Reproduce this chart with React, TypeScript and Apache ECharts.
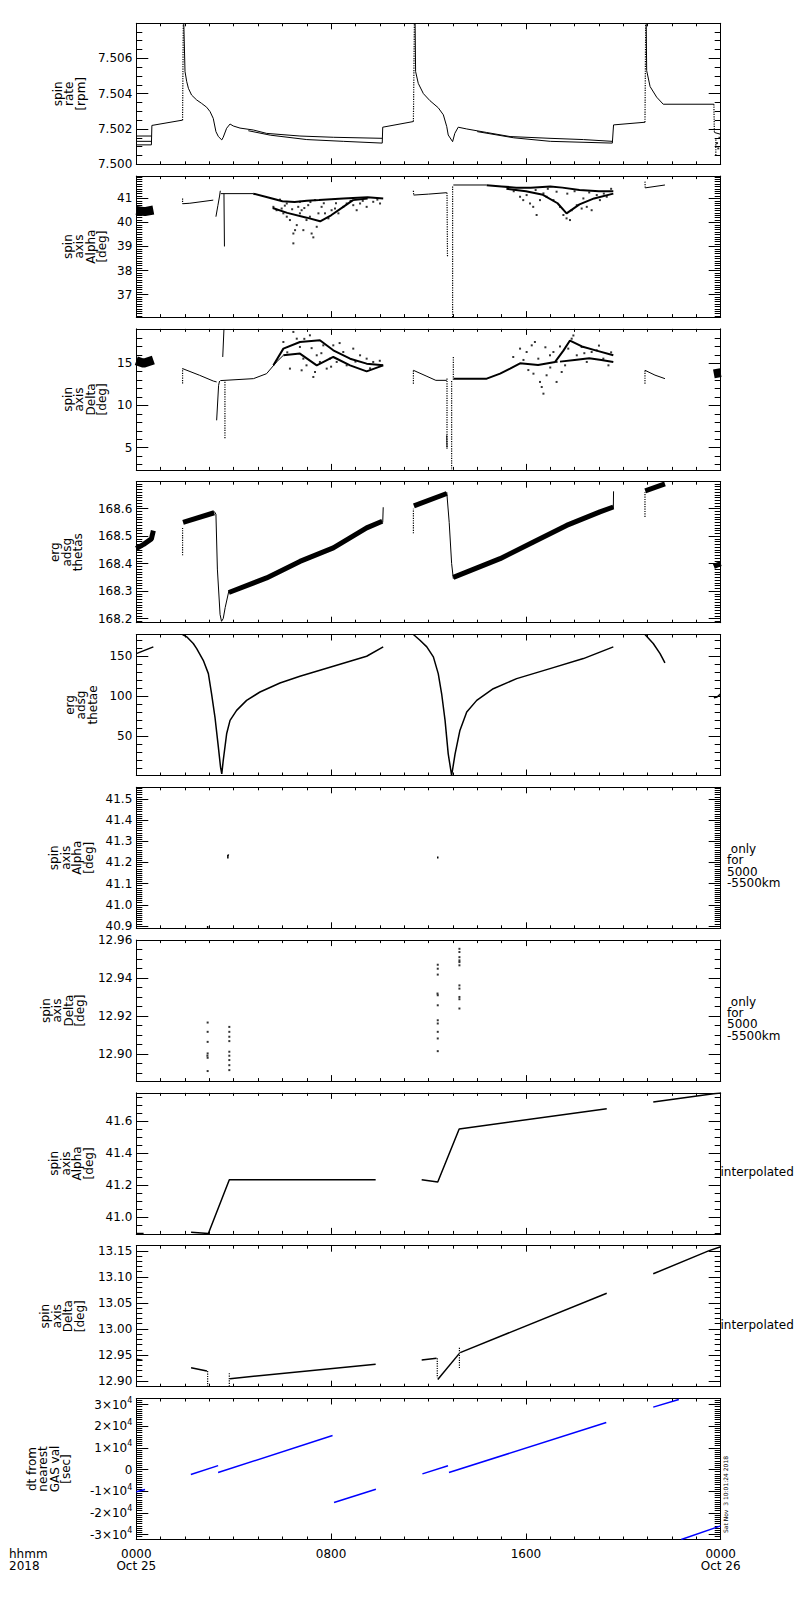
import React, { useEffect, useRef } from "react";
import * as echarts from "echarts";

type Pt = [number, number];
type Seg = Pt[];

// ---------- shared time axis (hours since 0000 Oct 25) ----------
const HOUR_TICKS = [0, 8, 16, 24];
const HOUR_TICK_LABELS = ["0000\nOct 25", "0800", "1600", "0000\nOct 26"];

// ---------- panel 1: spin rate [rpm] ----------
const P1_TICKS = [7.5, 7.502, 7.504, 7.506];
const P1_TICK_LABELS = ["7.500", "7.502", "7.504", "7.506"];
const P1_LINES: Seg[] = [
  [[0, 7.5016], [0.62, 7.5016]],
  [[0, 7.5013], [0.62, 7.5013]],
  [[0, 7.5011], [0.62, 7.5011], [0.64, 7.5022], [1.9, 7.5025]],
  [[1.95, 7.50798], [2.0, 7.50525], [2.07, 7.50468], [2.14, 7.5043], [2.27, 7.50392], [2.48, 7.50364], [2.68, 7.50345], [2.89, 7.50323], [3.03, 7.50298], [3.16, 7.5026], [3.27, 7.50185], [3.37, 7.50157], [3.51, 7.50138], [3.57, 7.50153], [3.71, 7.50204], [3.85, 7.50228], [3.98, 7.50217], [4.26, 7.50205], [4.81, 7.50194], [5.35, 7.50175], [6.72, 7.5016], [8.09, 7.50153], [10.1, 7.50147]],
  [[4.6, 7.5019], [5.5, 7.50165], [7.0, 7.5014], [8.5, 7.5013], [10.1, 7.5012]],
  [[10.1, 7.5012], [10.12, 7.5021], [10.83, 7.50228], [11.38, 7.50242]],
  [[11.45, 7.50798], [11.47, 7.50525], [11.58, 7.50458], [11.79, 7.504], [12.06, 7.5036], [12.4, 7.5032], [12.61, 7.5028], [12.75, 7.50213], [12.81, 7.50166], [12.99, 7.50128], [13.08, 7.50175], [13.22, 7.5021], [13.57, 7.502], [14.39, 7.5018], [15.35, 7.50157], [16.99, 7.50147], [18.36, 7.5014], [19.55, 7.5013]],
  [[14.0, 7.50185], [15.5, 7.5015], [17.0, 7.5013], [19.55, 7.5012]],
  [[19.55, 7.5012], [19.6, 7.50223], [20.89, 7.50238]],
  [[20.94, 7.50798], [20.96, 7.5053], [21.1, 7.5044], [21.37, 7.5038], [21.64, 7.5034], [23.72, 7.5034]],
  [[23.74, 7.5018], [24, 7.5017]],
];
const P1_DOTTED: Seg[] = [
  [[1.9, 7.5025], [1.93, 7.50798]],
  [[11.38, 7.50242], [11.42, 7.50798]],
  [[20.89, 7.50238], [20.92, 7.50798]],
  [[23.72, 7.5034], [23.74, 7.5018]],
  [[23.8, 7.5014], [23.8, 7.5005]],
];
const P1_POINTS: Pt[] = [[23.85, 7.5012], [23.9, 7.5009], [23.95, 7.5015]];

// ---------- panel 2: spin axis Alpha [deg] ----------
const P2_TICKS = [37, 38, 39, 40, 41];
const P2_TICK_LABELS = ["37", "38", "39", "40", "41"];
const P2_BANDS: Seg[] = [[[0, 40.5], [0.35, 40.45], [0.7, 40.52]]];
const P2_THICK: Seg[] = [
  [[4.8, 41.2], [5.5, 41.02], [6.0, 40.88], [6.5, 40.85], [7.0, 40.9], [7.5, 40.93], [8.5, 41.0], [9.5, 41.05], [10.14, 41.0]],
  [[5.6, 40.6], [6.2, 40.4], [7.0, 40.2], [7.55, 40.05], [8.0, 40.3], [8.5, 40.65], [8.9, 40.93], [9.5, 41.0]],
  [[14.39, 41.55], [15.0, 41.5], [15.6, 41.45], [16.2, 41.45], [17.0, 41.5], [17.5, 41.45], [18.2, 41.35], [19.0, 41.3], [19.59, 41.3]],
  [[15.2, 41.4], [16.0, 41.3], [16.7, 41.15], [17.3, 40.8], [17.67, 40.38], [18.2, 40.75], [18.8, 41.0], [19.59, 41.2]],
];
const P2_LINES: Seg[] = [
  [[1.9, 40.78], [2.2, 40.8], [3.16, 40.93]],
  [[3.27, 40.24], [3.35, 40.7], [3.42, 41.1], [3.45, 41.32]],
  [[3.6, 41.2], [3.62, 39.0]],
  [[3.47, 41.2], [4.8, 41.2]],
  [[11.39, 41.14], [12.0, 41.18], [12.75, 41.24]],
  [[13.02, 41.56], [14.39, 41.56]],
  [[20.9, 41.44], [21.71, 41.56]],
];
const P2_DOTTED: Seg[] = [
  [[1.9, 41.0], [1.9, 40.78]],
  [[11.38, 41.32], [11.39, 41.14]],
  [[12.76, 41.24], [12.78, 38.57]],
  [[12.99, 41.5], [12.99, 36.06]],
  [[20.89, 41.7], [20.9, 41.44]],
];
const P2_POINTS: Pt[] = [
  [5.63, 40.65], [5.76, 40.51], [5.97, 40.58], [6.04, 40.38], [6.18, 40.24], [6.18, 40.79], [6.31, 40.1], [6.45, 39.54], [6.45, 39.13], [6.52, 39.68], [6.59, 39.89], [6.65, 40.65], [6.72, 40.38], [6.72, 40.86], [6.79, 40.51], [6.86, 39.68], [6.99, 40.1], [7.06, 40.72], [7.13, 40.24], [7.2, 39.54], [7.27, 39.38], [7.34, 40.93], [7.41, 39.82], [7.48, 40.38], [7.61, 40.65], [7.75, 40.38], [7.89, 40.17], [8.02, 40.51], [8.16, 40.58], [8.3, 40.38], [8.5, 40.65], [8.64, 40.79], [8.91, 40.72], [9.05, 40.51], [9.19, 40.79], [9.46, 40.65], [9.73, 40.86], [10.01, 40.79],
  [5.9, 40.95], [6.1, 40.7], [6.4, 40.55], [6.9, 40.6], [7.15, 40.85], [7.7, 40.8], [8.2, 40.8], [8.8, 40.9], [9.3, 40.9], [9.9, 40.95],
  [15.89, 40.93], [16.17, 40.79], [16.3, 40.65], [16.44, 40.31], [16.58, 40.93], [16.85, 41.07], [17.13, 40.93], [17.4, 40.65], [17.54, 40.31], [17.67, 40.17], [17.81, 40.1], [17.88, 40.51], [18.09, 40.72], [18.29, 40.58], [18.5, 40.65], [18.7, 40.51], [19.04, 40.93], [15.76, 41.07], [16.03, 41.14], [16.72, 41.21], [17.26, 41.28], [18.36, 41.0], [18.91, 41.14], [19.32, 41.07],
  [15.5, 41.3], [16.4, 41.35], [16.9, 41.4], [17.7, 41.2], [18.0, 41.3], [18.6, 41.25], [19.2, 41.2], [19.5, 41.4],
];

// ---------- panel 3: spin axis Delta [deg] ----------
const P3_TICKS = [5, 10, 15];
const P3_TICK_LABELS = ["5", "10", "15"];
const P3_BANDS: Seg[] = [
  [[0, 15.3], [0.3, 15.0], [0.7, 15.4]],
  [[23.72, 13.75], [24, 13.9]],
];
const P3_THICK: Seg[] = [
  [[5.63, 14.76], [6.04, 16.74], [6.72, 17.53], [7.54, 17.73], [8.09, 16.54], [8.78, 15.55], [9.46, 14.96], [10.14, 14.76]],
  [[6.04, 15.95], [6.72, 16.15], [7.41, 14.76], [8.09, 15.75], [8.78, 14.76], [9.46, 14.05], [10.14, 14.76]],
  [[13.04, 13.18], [14.39, 13.18], [14.94, 13.77], [15.35, 14.37], [15.76, 15.0], [16.5, 14.8], [17.2, 15.16], [17.54, 16.5], [17.81, 17.7], [18.3, 17.0], [18.9, 16.5], [19.59, 15.95]],
  [[17.4, 15.2], [18.0, 15.4], [18.6, 15.6], [19.1, 15.4], [19.59, 15.16]],
];
const P3_LINES: Seg[] = [
  [[1.9, 14.37], [2.6, 13.58], [3.16, 12.9], [3.3, 12.79]],
  [[3.3, 8.24], [3.38, 12.39], [3.42, 12.9]],
  [[3.55, 15.75], [3.6, 19.08]],
  [[3.45, 12.95], [4.81, 13.18], [5.35, 13.77], [5.76, 15.16], [6.04, 15.95]],
  [[11.38, 14.17], [11.9, 13.5], [12.3, 12.98], [12.75, 12.98]],
  [[12.75, 6.46], [12.76, 5.0]],
  [[20.89, 14.17], [21.3, 13.6], [21.71, 13.18]],
];
const P3_DOTTED: Seg[] = [
  [[1.9, 12.6], [1.9, 14.37]],
  [[3.64, 12.8], [3.64, 6.07]],
  [[11.38, 12.59], [11.38, 14.17]],
  [[12.76, 13.2], [12.76, 4.88]],
  [[12.95, 12.9], [12.95, 2.36]],
  [[13.02, 15.75], [13.02, 12.9]],
  [[20.89, 12.59], [20.89, 14.17]],
];
const P3_POINTS: Pt[] = [
  [6.04, 17.53], [6.45, 18.72], [6.59, 17.92], [6.72, 16.94], [6.86, 15.55], [6.99, 14.76], [7.13, 18.32], [7.27, 13.38], [7.41, 15.95], [7.54, 15.16], [7.68, 17.13], [7.82, 14.37], [7.95, 15.55], [8.23, 15.16], [8.5, 16.34], [8.91, 16.74], [9.19, 15.95], [9.46, 15.55], [9.73, 15.16], [6.31, 14.37], [6.79, 14.17], [7.34, 13.97], [8.09, 17.13], [8.64, 14.76],
  [6.2, 16.3], [6.9, 17.9], [7.2, 16.8], [7.6, 16.2], [8.0, 14.6], [8.35, 17.4], [9.0, 15.2], [9.6, 14.4], [10.0, 15.3],
  [15.48, 15.75], [15.76, 16.74], [16.03, 16.34], [16.24, 17.13], [16.37, 17.53], [16.51, 15.55], [16.58, 12.79], [16.65, 12.19], [16.72, 11.4], [16.85, 13.58], [16.99, 15.95], [17.13, 16.34], [17.26, 12.79], [17.47, 13.97], [17.61, 14.76], [17.74, 16.74], [17.88, 17.92], [18.09, 15.95], [18.29, 16.94], [18.5, 15.16], [18.7, 16.34], [18.91, 16.54], [19.18, 15.55], [19.39, 14.76], [16.31, 13.77], [17.26, 15.16],
  [15.9, 15.4], [16.1, 14.2], [16.8, 16.9], [17.0, 14.5], [17.4, 17.0], [17.95, 18.3], [18.4, 16.2], [19.0, 17.1], [19.5, 16.3],
];

// ---------- panel 4: erg adsg thetas ----------
const P4_TICKS = [168.2, 168.3, 168.4, 168.5, 168.6];
const P4_TICK_LABELS = ["168.2", "168.3", "168.4", "168.5", "168.6"];
const P4_BANDS: Seg[] = [
  [[0, 168.455], [0.3, 168.47], [0.62, 168.49], [0.7, 168.52]],
  [[1.92, 168.55], [3.2, 168.585]],
  [[3.8, 168.295], [5.35, 168.348], [6.72, 168.408], [8.09, 168.457], [9.46, 168.53], [10.1, 168.554]],
  [[11.4, 168.61], [12.75, 168.655]],
  [[13.02, 168.35], [14.94, 168.418], [16.31, 168.479], [17.67, 168.539], [19.04, 168.588], [19.59, 168.606]],
  [[20.9, 168.665], [21.71, 168.69]],
  [[23.72, 168.39], [24, 168.4]],
];
const P4_LINES: Seg[] = [
  [[3.2, 168.59], [3.27, 168.58], [3.33, 168.38], [3.44, 168.215], [3.5, 168.19], [3.57, 168.2], [3.65, 168.24], [3.8, 168.3]],
  [[12.75, 168.66], [12.85, 168.55], [12.95, 168.4], [13.02, 168.345]],
  [[10.12, 168.55], [10.14, 168.605]],
  [[19.59, 168.6], [19.6, 168.663]],
];
const P4_DOTTED: Seg[] = [
  [[1.9, 168.43], [1.9, 168.53]],
  [[11.38, 168.51], [11.38, 168.6]],
  [[20.89, 168.57], [20.89, 168.66]],
];

// ---------- panel 5: erg adsg thetae ----------
const P5_TICKS = [50, 100, 150];
const P5_TICK_LABELS = ["50", "100", "150"];
const P5_LINES: Seg[] = [
  [[0, 152.9], [0.7, 161.2]],
  [[1.9, 176.6], [2.07, 173.7], [2.34, 165.4], [2.48, 159.1], [2.75, 144.6], [2.96, 128.0], [3.09, 103.1], [3.23, 74.1], [3.37, 36.7], [3.46, 11.8], [3.51, 3.5], [3.57, 20.1], [3.71, 53.3], [3.85, 70], [4.12, 82.4], [4.53, 94.8], [5.08, 105.2], [5.9, 116.4], [6.72, 124.7], [8.09, 137.1], [9.46, 149.6], [10.14, 161.2]],
  [[11.38, 176.6], [11.65, 169.5], [11.93, 161.2], [12.2, 148.8], [12.4, 128], [12.54, 103], [12.68, 70], [12.81, 28.4], [12.95, 1.5], [13.09, 28], [13.29, 57.5], [13.57, 80.3], [13.98, 94.8], [14.66, 109.3], [15.62, 121.8], [16.99, 134.2], [18.36, 146.7], [19.59, 161.2]],
  [[20.89, 176.6], [21.23, 165.4], [21.51, 152.9], [21.71, 141.3]],
  [[23.72, 98], [23.85, 99], [24, 103]],
];

// ---------- panel 6: spin axis Alpha, 5000-5500 km ----------
const P6_TICKS = [40.9, 41.0, 41.1, 41.2, 41.3, 41.4, 41.5];
const P6_TICK_LABELS = ["40.9", "41.0", "41.1", "41.2", "41.3", "41.4", "41.5"];
const P6_LINES: Seg[] = [
  [[3.76, 41.236], [3.76, 41.219]],
  [[3.76, 41.236], [3.8, 41.233]],
  [[12.38, 41.228], [12.38, 41.219]],
  [[2.93, 40.889], [2.93, 40.9]],
];

// ---------- panel 7: spin axis Delta, 5000-5500 km ----------
const P7_TICKS = [12.9, 12.92, 12.94, 12.96];
const P7_TICK_LABELS = ["12.90", "12.92", "12.94", "12.96"];
const P7_POINTS: Pt[] = [
  [2.93, 12.9165], [2.93, 12.9116], [2.93, 12.9063], [2.93, 12.9002], [2.92, 12.899], [2.93, 12.8979], [2.93, 12.8909],
  [3.82, 12.9142], [3.82, 12.9116], [3.82, 12.909], [3.82, 12.9067], [3.82, 12.9011], [3.82, 12.899], [3.82, 12.8967], [3.82, 12.894], [3.82, 12.8914],
  [12.38, 12.947], [12.38, 12.9449], [12.38, 12.9418], [12.37, 12.9318], [12.38, 12.9309], [12.38, 12.9256], [12.38, 12.9177], [12.38, 12.916], [12.38, 12.9116], [12.38, 12.9081], [12.38, 12.9014],
  [13.27, 12.9554], [13.27, 12.9537], [13.27, 12.951], [13.27, 12.9493], [13.27, 12.9484], [13.27, 12.9467], [13.27, 12.9361], [13.27, 12.9344], [13.27, 12.93], [13.27, 12.9288], [13.27, 12.9239],
];

// ---------- panel 8: spin axis Alpha, interpolated ----------
const P8_TICKS = [41.0, 41.2, 41.4, 41.6];
const P8_TICK_LABELS = ["41.0", "41.2", "41.4", "41.6"];
const P8_LINES: Seg[] = [
  [[0, 40.9], [0.3, 40.9]],
  [[2.25, 40.907], [2.96, 40.9], [3.82, 41.234], [9.83, 41.234]],
  [[11.72, 41.234], [12.38, 41.22], [13.26, 41.55], [19.32, 41.676]],
  [[21.23, 41.718], [23.7, 41.769], [24, 41.775]],
];

// ---------- panel 9: spin axis Delta, interpolated ----------
const P9_TICKS = [12.9, 12.95, 13.0, 13.05, 13.1, 13.15];
const P9_TICK_LABELS = ["12.90", "12.95", "13.00", "13.05", "13.10", "13.15"];
const P9_LINES: Seg[] = [
  [[0, 12.942], [0.25, 12.94]],
  [[2.25, 12.9256], [2.9, 12.919]],
  [[3.85, 12.9045], [9.83, 12.932]],
  [[11.72, 12.9404], [12.33, 12.9436]],
  [[12.38, 12.903], [13.26, 12.9526]],
  [[13.3, 12.9545], [19.32, 13.0686]],
  [[21.23, 13.106], [23.5, 13.15], [24, 13.158]],
];
const P9_DOTTED: Seg[] = [
  [[2.93, 12.919], [2.93, 12.889]],
  [[3.82, 12.915], [3.82, 12.889]],
  [[12.36, 12.9436], [12.36, 12.906]],
  [[13.27, 12.964], [13.27, 12.925]],
];

// ---------- panel 10: dt from nearest GAS val [sec] ----------
const P10_TICKS = [-30000, -20000, -10000, 0, 10000, 20000, 30000];
const P10_TICK_LABELS = ["{b|-3×10}{s|4}", "{b|-2×10}{s|4}", "{b|-1×10}{s|4}", "{b|0}", "{b|1×10}{s|4}", "{b|2×10}{s|4}", "{b|3×10}{s|4}"];
const P10_LINES: Seg[] = [
  [[0, -10300], [0.36, -9200]],
  [[2.24, -2300], [3.36, 1800]],
  [[3.36, -1400], [8.06, 15700]],
  [[8.12, -15200], [9.84, -9100]],
  [[11.75, -2000], [12.8, 1700]],
  [[12.84, -1400], [19.3, 21700]],
  [[21.23, 28800], [22.28, 32300]],
  [[22.38, -32300], [24.0, -26000]],
];

const FONT = '"DejaVu Sans", sans-serif';
const BLACK = "#000000";

const PANELS = [
  { name: "spin\nrate\n[rpm]", nameX: 69, min: 7.5, max: 7.50798, ticks: P1_TICKS, labels: P1_TICK_LABELS, minor: 0.0005, lines: P1_LINES, thick: [], bands: [], bandW: 0, dotted: P1_DOTTED, points: P1_POINTS, color: BLACK, lineW: 1 },
  { name: "spin\naxis\nAlpha\n[deg]", nameX: 85, min: 36.06, max: 41.93, ticks: P2_TICKS, labels: P2_TICK_LABELS, minor: 0.1, lines: P2_LINES, thick: P2_THICK, bands: P2_BANDS, bandW: 9, dotted: P2_DOTTED, points: P2_POINTS, color: BLACK, lineW: 1 },
  { name: "spin\naxis\nDelta\n[deg]", nameX: 85, min: 2.36, max: 19.08, ticks: P3_TICKS, labels: P3_TICK_LABELS, minor: 1, lines: P3_LINES, thick: P3_THICK, bands: P3_BANDS, bandW: 9, dotted: P3_DOTTED, points: P3_POINTS, color: BLACK, lineW: 1 },
  { name: "erg\nadsg\nthetas", nameX: 66.5, min: 168.185, max: 168.698, ticks: P4_TICKS, labels: P4_TICK_LABELS, minor: 0.01, lines: P4_LINES, thick: [], bands: P4_BANDS, bandW: 5, dotted: P4_DOTTED, points: [], color: BLACK, lineW: 1 },
  { name: "erg\nadsg\nthetae", nameX: 81, min: 1.5, max: 176.6, ticks: P5_TICKS, labels: P5_TICK_LABELS, minor: 10, lines: P5_LINES, thick: [], bands: [], bandW: 0, dotted: [], points: [], color: BLACK, lineW: 1.5 },
  { name: "spin\naxis\nAlpha\n[deg]", nameX: 71.5, min: 40.889, max: 41.555, ticks: P6_TICKS, labels: P6_TICK_LABELS, minor: 0.01, lines: P6_LINES, thick: [], bands: [], bandW: 0, dotted: [], points: [], color: BLACK, lineW: 1.5 },
  { name: "spin\naxis\nDelta\n[deg]", nameX: 63, min: 12.8856, max: 12.96, ticks: P7_TICKS, labels: P7_TICK_LABELS, minor: 0.005, lines: [], thick: [], bands: [], bandW: 0, dotted: [], points: P7_POINTS, color: BLACK, lineW: 1 },
  { name: "spin\naxis\nAlpha\n[deg]", nameX: 71.5, min: 40.897, max: 41.775, ticks: P8_TICKS, labels: P8_TICK_LABELS, minor: 0.05, lines: P8_LINES, thick: [], bands: [], bandW: 0, dotted: [], points: [], color: BLACK, lineW: 1.5 },
  { name: "spin\naxis\nDelta\n[deg]", nameX: 62.5, min: 12.889, max: 13.16, ticks: P9_TICKS, labels: P9_TICK_LABELS, minor: 0.01, lines: P9_LINES, thick: [], bands: [], bandW: 0, dotted: P9_DOTTED, points: [], color: BLACK, lineW: 1.5 },
  { name: "dt from\nnearest\nGAS val\n[sec]", nameX: 49, min: -32300, max: 32770, ticks: P10_TICKS, labels: P10_TICK_LABELS, minor: 1000, lines: P10_LINES, thick: [], bands: [], bandW: 0, dotted: [], points: [], color: "#0000ff", lineW: 1.5 },
];

const GRID_LEFT = 136.3;
const GRID_WIDTH = 584.4;
const GRID_TOP0 = 23.3;
const GRID_STEP = 152.8;
const GRID_H = 141;

function minorValues(min: number, max: number, step: number) {
  const out: number[] = [];
  const k0 = Math.ceil(min / step - 1e-9);
  const k1 = Math.floor(max / step + 1e-9);
  for (let k = k0; k <= k1; k++) out.push(+(k * step).toFixed(10));
  return out.filter((v) => v > min && v < max);
}

function lookupLabel(ticks: number[], labels: string[], v: number) {
  for (let j = 0; j < ticks.length; j++) {
    if (Math.abs(ticks[j] - v) <= 1e-7 * Math.max(1, Math.abs(ticks[j]))) return labels[j];
  }
  return "";
}

function buildOption() {
  const grid: any[] = [];
  const xAxis: any[] = [];
  const yAxis: any[] = [];
  const series: any[] = [];
  const graphic: any[] = [];

  PANELS.forEach((p, i) => {
    const top = GRID_TOP0 + GRID_STEP * i;
    grid.push({ left: GRID_LEFT, width: GRID_WIDTH, top, height: GRID_H, containLabel: false });
    const isLast = i === PANELS.length - 1;
    const xBase = {
      type: "value",
      gridIndex: i,
      min: 0,
      max: 24,
      interval: 8,
      axisLine: { show: true, onZero: false, lineStyle: { color: BLACK, width: 1 } },
      axisTick: { show: true, inside: true, length: 6, lineStyle: { color: BLACK, width: 1 } },
      minorTick: { show: true, splitNumber: 8, length: 3, lineStyle: { color: BLACK, width: 1 } },
      splitLine: { show: false },
      minorSplitLine: { show: false },
    };
    xAxis.push({
      ...xBase,
      position: "bottom",
      axisLabel: {
        show: isLast,
        margin: 8,
        color: BLACK,
        fontFamily: FONT,
        fontSize: 12,
        lineHeight: 12,
        showMinLabel: true,
        showMaxLabel: true,
        formatter: (v: number) => lookupLabel(HOUR_TICKS, HOUR_TICK_LABELS, v),
      },
    });
    xAxis.push({ ...xBase, position: "top", axisLabel: { show: false } });

    const minorVals = minorValues(p.min, p.max, p.minor);
    const yBase = {
      type: "value",
      gridIndex: i,
      min: p.min,
      max: p.max,
      splitLine: { show: false },
      minorTick: { show: false },
    };
    const rich = {
      b: { fontSize: 12, fontFamily: FONT, color: BLACK, lineHeight: 16 },
      s: { fontSize: 8, fontFamily: FONT, color: BLACK, lineHeight: 8, verticalAlign: "top" },
    };
    for (const side of ["left", "right"]) {
      yAxis.push({
        ...yBase,
        position: side,
        axisLine: { show: true, onZero: false, lineStyle: { color: BLACK, width: 1 } },
        axisTick: { show: true, inside: true, length: 12, lineStyle: { color: BLACK, width: 1 }, customValues: p.ticks },
        axisLabel: {
          show: side === "left",
          customValues: p.ticks,
          margin: 4,
          color: BLACK,
          fontFamily: FONT,
          fontSize: 12,
          showMinLabel: true,
          showMaxLabel: true,
          formatter: (v: number) => lookupLabel(p.ticks, p.labels, v),
          rich: isLast ? rich : undefined,
        },
      });
      yAxis.push({
        ...yBase,
        position: side,
        axisLine: { show: false, onZero: false },
        axisTick: { show: true, inside: true, length: 6, lineStyle: { color: BLACK, width: 1 }, customValues: minorVals },
        axisLabel: { show: false },
      });
    }
    const xIdx = 2 * i;
    const yIdx = 4 * i;
    const addLine = (seg: Seg, width: number, type: string) => {
      series.push({
        type: "line",
        xAxisIndex: xIdx,
        yAxisIndex: yIdx,
        data: seg,
        showSymbol: false,
        symbol: "none",
        clip: true,
        silent: true,
        lineStyle: { color: p.color, width, type },
        z: 3,
      });
    };
    p.bands.forEach((s: Seg) => addLine(s, p.bandW, "solid"));
    p.thick.forEach((s: Seg) => addLine(s, 2, "solid"));
    p.lines.forEach((s: Seg) => addLine(s, p.lineW, "solid"));
    p.dotted.forEach((s: Seg) => addLine(s, 1.2, "dotted"));
    if (p.points.length) {
      series.push({
        type: "scatter",
        xAxisIndex: xIdx,
        yAxisIndex: yIdx,
        data: p.points,
        symbol: "rect",
        symbolSize: 2,
        silent: true,
        clip: true,
        itemStyle: { color: p.color },
        z: 3,
      });
    }

    graphic.push({
      type: "text",
      x: p.nameX,
      y: top + GRID_H / 2,
      rotation: Math.PI / 2,
      silent: true,
      style: {
        text: p.name,
        fill: BLACK,
        fontFamily: FONT,
        fontSize: 12,
        lineHeight: 11.5,
        align: "center",
        verticalAlign: "middle",
        textAlign: "center",
        textVerticalAlign: "middle",
      },
    });
  });

  // right-hand annotations
  [5, 6].forEach((i) => {
    graphic.push({
      type: "text",
      x: 727,
      y: GRID_TOP0 + GRID_STEP * i + 56,
      silent: true,
      style: { text: " only\nfor\n5000\n-5500km", fill: BLACK, fontFamily: FONT, fontSize: 12, lineHeight: 11.3, align: "left", verticalAlign: "top", textAlign: "left", textVerticalAlign: "top" },
    });
  });
  [7, 8].forEach((i) => {
    graphic.push({
      type: "text",
      x: 720.5,
      y: GRID_TOP0 + GRID_STEP * i + 79,
      silent: true,
      style: { text: "interpolated", fill: BLACK, fontFamily: FONT, fontSize: 12, align: "left", verticalAlign: "middle", textAlign: "left", textVerticalAlign: "middle" },
    });
  });
  graphic.push({
    type: "text",
    x: 9,
    y: GRID_TOP0 + GRID_STEP * 9 + GRID_H + 8,
    silent: true,
    style: { text: "hhmm\n2018", fill: BLACK, fontFamily: FONT, fontSize: 12, lineHeight: 12, align: "left", verticalAlign: "top", textAlign: "left", textVerticalAlign: "top" },
  });
  graphic.push({
    type: "text",
    x: 725,
    y: GRID_TOP0 + GRID_STEP * 9 + 96,
    rotation: Math.PI / 2,
    silent: true,
    style: { text: "Sat Nov  3 10:01:24 2018", fill: BLACK, fontFamily: FONT, fontSize: 6, align: "center", verticalAlign: "middle", textAlign: "center", textVerticalAlign: "middle" },
  });

  return {
    animation: false,
    backgroundColor: "#ffffff",
    textStyle: { fontFamily: FONT },
    grid,
    xAxis,
    yAxis,
    series,
    graphic,
  };
}

export default function App() {
  const ref = useRef<HTMLDivElement>(null);
  useEffect(() => {
    if (!ref.current) return;
    const chart = echarts.init(ref.current, undefined, { renderer: "svg", width: 800, height: 1600 });
    chart.setOption(buildOption() as any);
    return () => chart.dispose();
  }, []);
  return (
    <div
      ref={ref}
      style={{ position: "absolute", left: 0, top: 0, width: 800, height: 1600, background: "#ffffff" }}
    />
  );
}
